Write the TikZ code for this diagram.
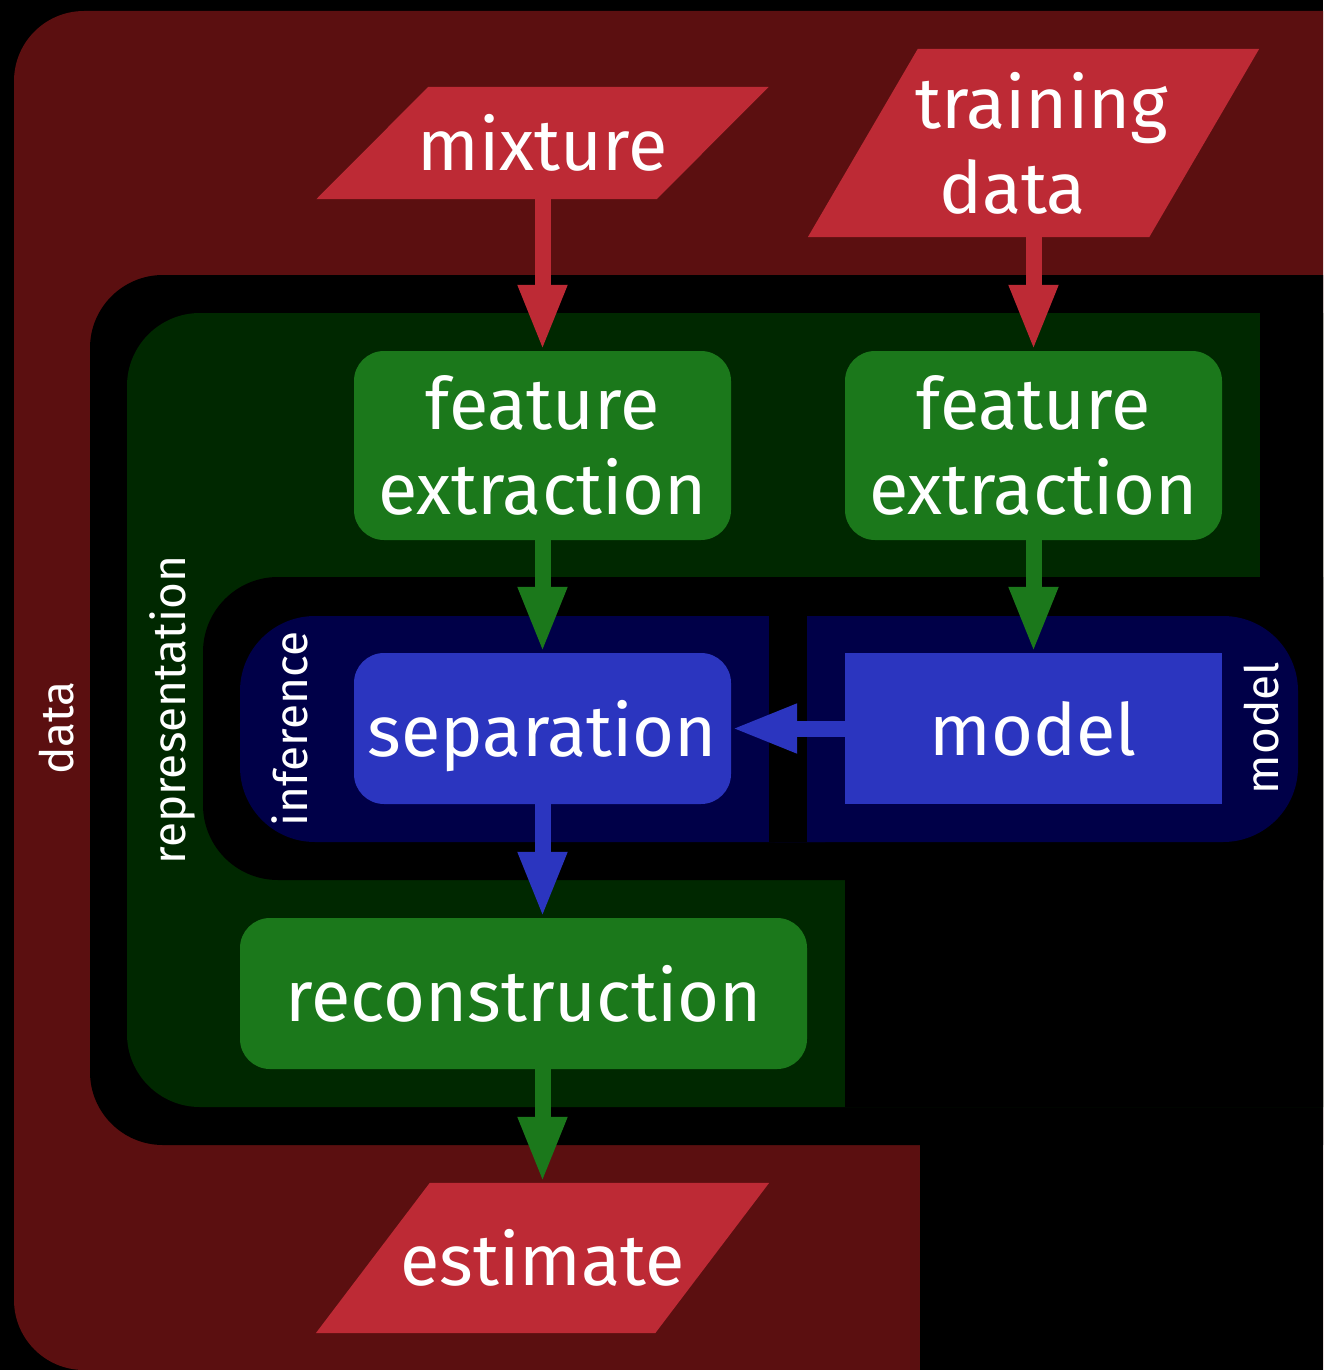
\documentclass[tikz,border=0pt]{standalone}
\usepackage{fontspec}
\setmainfont{Fira Sans}
\usetikzlibrary{arrows.meta,calc}
\pgfdeclarelayer{back}
\pgfdeclarelayer{mid}
\pgfsetlayers{back,mid,main}
\definecolor{datared}{RGB}{91,15,16}
\definecolor{parared}{RGB}{189,42,53}
\definecolor{repgreen}{RGB}{0,40,0}
\definecolor{boxgreen}{RGB}{27,120,27}
\definecolor{infnavy}{RGB}{0,0,72}
\definecolor{boxblue}{RGB}{43,53,191}
\begin{document}
\begin{tikzpicture}[x=1pt,y=-1pt,
  big/.style={text=white, font=\fontsize{72}{85}\selectfont, align=center, inner sep=0pt},
  para/.style={big},
  gbox/.style={big, fill=boxgreen, rounded corners=30pt},
  bbox/.style={big, fill=boxblue},
  lab/.style={text=white, font=\fontsize{46}{50}\selectfont, rotate=90, anchor=base, inner sep=0pt},
  arr/.style={line width=16pt, -{Triangle[length=66pt,width=45pt]}},
]
\useasboundingbox (0,0) rectangle (1323,1370);

% nodes
\node[para, minimum width=340pt, minimum height=112pt] (mix) at (542.5,143) {mixture};
\node[para, minimum width=341pt, minimum height=188pt] (train) at (1033.5,143) {\hspace*{16pt}training\\data\hspace*{42pt}};
\node[gbox, minimum width=377pt, minimum height=189pt] (fe1) at (542.5,445.5) {feature\\extraction};
\node[gbox, minimum width=377pt, minimum height=189pt] (fe2) at (1033.5,445.5) {feature\\extraction};
\node[bbox, rounded corners=30pt, text depth=0pt, minimum width=377pt, minimum height=151pt] (sep) at (542.5,728.5) {separation};
\node[bbox, text depth=0pt, minimum width=377pt, minimum height=151pt] (model) at (1033.5,728.5) {model};
\node[gbox, minimum width=567pt, minimum height=151pt] (recon) at (523.5,993.5) {reconstruction};
\node[para, minimum width=339pt, minimum height=150pt] (est) at (542.5,1258) {estimate};

% region labels
\node[lab] (ldata) at (73,728) {data};
\node[lab] (lrep) at (185,710) {representation};
\node[lab] (linf) at (307,729) {inference};
\node[lab] (lmod) at (1278,728) {model};

% parallelogram fills
\begin{pgfonlayer}{mid}
\fill[parared] ($(mix.south west)+(-56,0)$) -- ($(mix.south east)+(-56,0)$) -- ($(mix.north east)+(56,0)$) -- ($(mix.north west)+(56,0)$) -- cycle;
\fill[parared] ($(train.south west)+(-55,0)$) -- ($(train.south east)+(-55,0)$) -- ($(train.north east)+(55,0)$) -- ($(train.north west)+(55,0)$) -- cycle;
\fill[parared] ($(est.south west)+(-57,0)$) -- ($(est.south east)+(-57,0)$) -- ($(est.north east)+(57,0)$) -- ($(est.north west)+(57,0)$) -- cycle;
\end{pgfonlayer}

% regions
\begin{pgfonlayer}{back}
\clip (0,0) rectangle (1323,1370);
\fill[black] (0,0) rectangle (1323,1370);
\fill[datared, rounded corners=70pt] (14,11) rectangle (1420,1370);
\fill[black] (920,1145) rectangle (1323,1370);
\fill[black, rounded corners=73pt] (90,275) rectangle (1420,1145);
\fill[repgreen, rounded corners=73pt] (127,313) rectangle (1420,1107);
\fill[black] (1260,313) rectangle (1323,590);
\fill[black, rounded corners=75pt] (203,577) rectangle (1420,880);
\fill[black] (845,870) rectangle (1323,1107);
\fill[infnavy, rounded corners=75pt] (240,616) rectangle (900,842);
\fill[infnavy, rounded corners=75pt] (700,616) rectangle (1298,842);
\fill[black] (769,616) rectangle (807,842);
\end{pgfonlayer}

% connectors
\draw[arr, parared] (mix.south) -- (fe1.north);
\draw[arr, parared] (train.south) -- (fe2.north);
\draw[arr, boxgreen] (fe1.south) -- (sep.north);
\draw[arr, boxgreen] (fe2.south) -- (model.north);
\draw[arr, boxblue] (model.west) -- (sep.east);
\draw[arr, boxblue] (sep.south) -- (sep.south |- recon.north);
\draw[arr, boxgreen] (est.north |- recon.south) -- (est.north);
\end{tikzpicture}
\end{document}
